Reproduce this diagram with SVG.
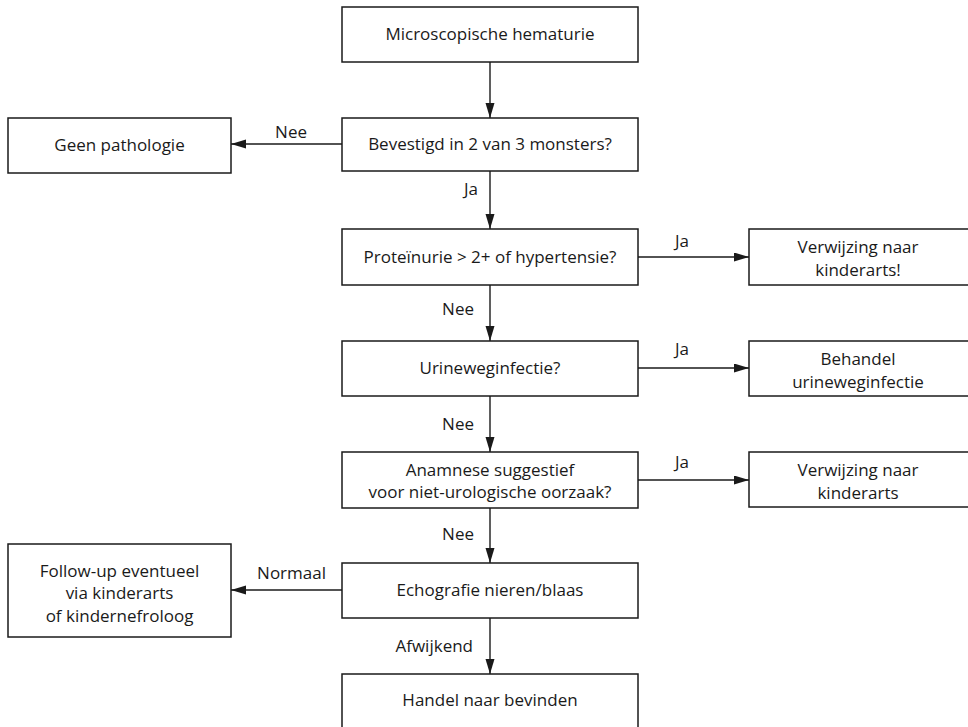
<svg xmlns="http://www.w3.org/2000/svg" width="968" height="727" viewBox="0 0 968 727">
<style>
  .box { fill: #ffffff; stroke: #1a1a1a; stroke-width: 1.5; }
  .t { font-family: "Open Sans", "Noto Sans", "Liberation Sans", sans-serif; font-size: 17px; fill: #1a1a1a; text-anchor: middle; }
  .lbl { font-family: "Open Sans", "Noto Sans", "Liberation Sans", sans-serif; font-size: 17px; fill: #1a1a1a; }
  .c { stroke: #1a1a1a; stroke-width: 1.4; fill: none; marker-end: url(#ah); }
</style>
<defs>
  <marker id="ah" markerUnits="userSpaceOnUse" markerWidth="16" markerHeight="10" refX="15" refY="4.5" orient="auto">
    <path d="M0,0 L15,4.5 L0,9 z" fill="#1a1a1a"/>
  </marker>
</defs>
<rect width="968" height="727" fill="#ffffff"/>

<g id="connectors">
  <line class="c" x1="490" y1="62" x2="490" y2="118"/>
  <line class="c" x1="342" y1="144" x2="231" y2="144"/>
  <line class="c" x1="490" y1="171" x2="490" y2="229"/>
  <line class="c" x1="638" y1="257" x2="749" y2="257"/>
  <line class="c" x1="490" y1="285" x2="490" y2="341"/>
  <line class="c" x1="638" y1="368" x2="749" y2="368"/>
  <line class="c" x1="490" y1="396" x2="490" y2="452"/>
  <line class="c" x1="638" y1="480" x2="749" y2="480"/>
  <line class="c" x1="490" y1="508" x2="490" y2="563"/>
  <line class="c" x1="342" y1="590" x2="231" y2="590"/>
  <line class="c" x1="490" y1="618" x2="490" y2="674"/>
  <text class="lbl" x="307" y="138" text-anchor="end">Nee</text>
  <text class="lbl" x="478" y="195" text-anchor="end">Ja</text>
  <text class="lbl" x="675" y="247">Ja</text>
  <text class="lbl" x="474" y="315" text-anchor="end">Nee</text>
  <text class="lbl" x="675" y="355">Ja</text>
  <text class="lbl" x="474" y="430" text-anchor="end">Nee</text>
  <text class="lbl" x="675" y="468">Ja</text>
  <text class="lbl" x="474" y="540" text-anchor="end">Nee</text>
  <text class="lbl" x="326" y="579" text-anchor="end">Normaal</text>
  <text class="lbl" x="473" y="652" text-anchor="end">Afwijkend</text>
</g>

<g id="n1">
  <rect class="box" x="342" y="7" width="296" height="55"/>
  <text class="t" x="490" y="40">Microscopische hematurie</text>
</g>
<g id="n2">
  <rect class="box" x="342" y="118" width="296" height="53"/>
  <text class="t" x="490" y="150">Bevestigd in 2 van 3 monsters?</text>
</g>
<g id="n3">
  <rect class="box" x="8" y="118" width="223" height="55"/>
  <text class="t" x="119.5" y="151">Geen pathologie</text>
</g>
<g id="n4">
  <rect class="box" x="342" y="229" width="296" height="56"/>
  <text class="t" x="490" y="263">Proteïnurie &gt; 2+ of hypertensie?</text>
</g>
<g id="n5">
  <rect class="box" x="749" y="229" width="225" height="56"/>
  <text class="t" x="858" y="253">Verwijzing naar</text>
  <text class="t" x="858" y="276">kinderarts!</text>
</g>
<g id="n6">
  <rect class="box" x="342" y="341" width="296" height="55"/>
  <text class="t" x="490" y="374">Urineweginfectie?</text>
</g>
<g id="n7">
  <rect class="box" x="749" y="341" width="225" height="55"/>
  <text class="t" x="858" y="365">Behandel</text>
  <text class="t" x="858" y="388">urineweginfectie</text>
</g>
<g id="n8">
  <rect class="box" x="342" y="452" width="296" height="56"/>
  <text class="t" x="490" y="476">Anamnese suggestief</text>
  <text class="t" x="490" y="498">voor niet-urologische oorzaak?</text>
</g>
<g id="n9">
  <rect class="box" x="749" y="452" width="225" height="55"/>
  <text class="t" x="858" y="476">Verwijzing naar</text>
  <text class="t" x="858" y="499">kinderarts</text>
</g>
<g id="n10">
  <rect class="box" x="342" y="563" width="296" height="55"/>
  <text class="t" x="490" y="596">Echografie nieren/blaas</text>
</g>
<g id="n11">
  <rect class="box" x="8" y="544" width="223" height="93"/>
  <text class="t" x="119.5" y="577">Follow-up eventueel</text>
  <text class="t" x="119.5" y="599">via kinderarts</text>
  <text class="t" x="119.5" y="622">of kindernefroloog</text>
</g>
<g id="n12">
  <rect class="box" x="342" y="674" width="296" height="60"/>
  <text class="t" x="490" y="706">Handel naar bevinden</text>
</g>
</svg>
